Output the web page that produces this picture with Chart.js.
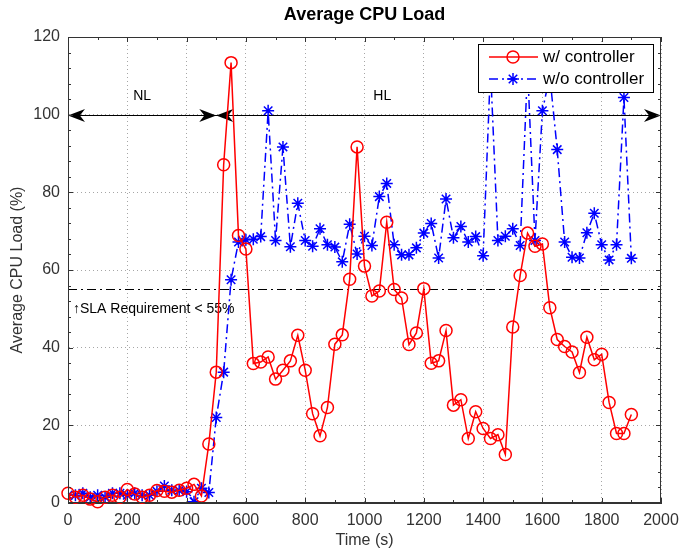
<!DOCTYPE html>
<html>
<head>
<meta charset="utf-8">
<script src="https://cdn.jsdelivr.net/npm/chart.js@4.4.0/dist/chart.umd.min.js"></script>
<style>
  html, body { margin: 0; padding: 0; background: #fff; }
  #wrap { width: 683px; height: 554px; }
</style>
</head>
<body>
<div id="wrap"><canvas id="cpu" width="683" height="554"></canvas></div>
<script>
// sample times (s)
var times = [0, 25, 50, 75, 100, 125, 150, 175, 200, 225, 250, 275, 300, 325, 350, 375, 400, 425, 450, 475,
    500, 525, 550, 575, 600, 625, 650, 675, 700, 725, 750, 775, 800, 825, 850, 875, 900, 925, 950, 975,
    1000, 1025, 1050, 1075, 1100, 1125, 1150, 1175, 1200, 1225, 1250, 1275, 1300, 1325, 1350, 1375, 1400, 1425, 1450, 1475,
    1500, 1525, 1550, 1575, 1600, 1625, 1650, 1675, 1700, 1725, 1750, 1775, 1800, 1825, 1850, 1875, 1900];

// w/ controller (%)
var withCtrl = [2.5, 1.5, 2, 1, 0.3, 1.5, 2, 1.5, 3.5, 2.3, 1.5, 2, 3.2, 3, 2.8, 3.3, 3.8, 4.8, 1.8, 15.2,
    33.7, 87.1, 113.4, 68.9, 65.4, 35.9, 36.3, 37.6, 31.9, 34.2, 36.6, 43.2, 34.2, 23, 17.3, 24.6, 40.9, 43.3, 57.6, 91.7,
    61, 53.3, 54.6, 72.3, 55, 52.8, 40.8, 43.8, 55.2, 36, 36.6, 44.4, 25.2, 26.6, 16.6, 23.5, 19.2, 16.6, 17.6, 12.5,
    45.3, 58.6, 69.5, 66.1, 66.7, 50.3, 42.1, 40.3, 38.9, 33.6, 42.7, 36.9, 38.3, 25.9, 17.9, 17.9, 22.8];

// w/o controller (%)
var withoutCtrl = [2, 2, 2.5, 1.5, 2, 1.5, 2.5, 2.5, 2, 2.5, 2, 2, 3, 4.4, 3.3, 3.2, 2.9, 0.3, 3.8, 2.7,
    22, 33.7, 57.5, 67.2, 67.8, 67.9, 68.6, 101, 67.6, 91.7, 66, 77.2, 67.6, 66.1, 70.6, 66.5, 65.9, 62.1, 71.8, 64.1,
    68.7, 66.3, 78.9, 82.3, 66.5, 63.9, 63.9, 65.7, 69.5, 72, 63.1, 78.3, 68.3, 71.2, 67.2, 68.6, 63.7, 112, 67.6, 68.7,
    70.6, 66.3, 112, 67.6, 101, 110, 91, 67.2, 63.3, 63.1, 69.6, 74.6, 66.5, 62.6, 66.5, 104.4, 63];

var seriesNames = ['w/ controller', 'w/o controller'];
var slaLevel = 55;
var phaseLevel = 100;
var phaseBounds = [0, 500, 2000];
var phaseNames = ['NL', 'HL'];

var axisColor = '#333';
var fontFamily = '"Liberation Sans", Arial, Helvetica, sans-serif';

function toPoints(values) {
    return times.map(function (t, i) { return { x: t, y: values[i] }; });
}

function arrowHead(ctx, x, y, dir) {
    var len = 17, half = 6.5;
    ctx.beginPath();
    ctx.moveTo(x, y);
    ctx.lineTo(x - dir * len, y - half);
    ctx.lineTo(x - dir * len * 0.7, y);
    ctx.lineTo(x - dir * len, y + half);
    ctx.closePath();
    ctx.fill();
}

function drawStar(ctx, x, y, r) {
    var d = r * Math.SQRT1_2;
    ctx.beginPath();
    ctx.moveTo(x - r, y); ctx.lineTo(x + r, y);
    ctx.moveTo(x, y - r); ctx.lineTo(x, y + r);
    ctx.moveTo(x - d, y - d); ctx.lineTo(x + d, y + d);
    ctx.moveTo(x - d, y + d); ctx.lineTo(x + d, y - d);
    ctx.stroke();
}

var annotations = {
    id: 'annotations',
    beforeDatasetsDraw: function (chart) {
        var ctx = chart.ctx, xs = chart.scales.x, ys = chart.scales.y;
        var area = chart.chartArea;
        ctx.save();

        // SLA line
        var sy = Math.round(ys.getPixelForValue(slaLevel)) + 0.5;
        ctx.strokeStyle = '#000';
        ctx.lineWidth = 1;
        ctx.setLineDash([9, 4, 2, 4]);
        ctx.beginPath();
        ctx.moveTo(area.left, sy);
        ctx.lineTo(area.right, sy);
        ctx.stroke();
        ctx.setLineDash([]);

        ctx.fillStyle = '#000';
        ctx.font = '14px ' + fontFamily;
        ctx.textAlign = 'left';
        ctx.textBaseline = 'middle';
        ctx.fillText('\u2191SLA Requirement < 55%', area.left + 5, sy + 20);

        // phase arrows
        var py = Math.round(ys.getPixelForValue(phaseLevel)) + 0.5;
        var p0 = xs.getPixelForValue(phaseBounds[0]);
        var p1 = xs.getPixelForValue(phaseBounds[1]);
        var p2 = xs.getPixelForValue(phaseBounds[2]);
        ctx.beginPath();
        ctx.moveTo(p0, py);
        ctx.lineTo(p2, py);
        ctx.stroke();
        arrowHead(ctx, p0, py, -1);
        arrowHead(ctx, p1, py, 1);
        arrowHead(ctx, p1, py, -1);
        arrowHead(ctx, p2, py, 1);

        ctx.font = '14px ' + fontFamily;
        ctx.textAlign = 'center';
        ctx.fillText(phaseNames[0], xs.getPixelForValue(250), py - 19);
        ctx.fillText(phaseNames[1], xs.getPixelForValue(1060), py - 19);
        ctx.restore();
    },
    afterDraw: function (chart) {
        var ctx = chart.ctx, xs = chart.scales.x, ys = chart.scales.y;
        var a = chart.chartArea;
        ctx.save();

        // box and inner ticks
        ctx.strokeStyle = axisColor;
        ctx.lineWidth = 1;
        ctx.strokeRect(a.left + 0.5, a.top + 0.5, a.right - a.left - 1, a.bottom - a.top - 1);
        ctx.beginPath();
        for (var t = 0; t <= 2000; t += 100) {
            var px = Math.round(xs.getPixelForValue(t)) + 0.5;
            var len = t % 200 === 0 ? 5 : 3;
            ctx.moveTo(px, a.bottom); ctx.lineTo(px, a.bottom - len);
            ctx.moveTo(px, a.top); ctx.lineTo(px, a.top + len);
        }
        for (var v = 0; v <= 120; v += 4) {
            var py = Math.round(ys.getPixelForValue(v)) + 0.5;
            var l2 = v % 20 === 0 ? 5 : 3;
            ctx.moveTo(a.left, py); ctx.lineTo(a.left + l2, py);
            ctx.moveTo(a.right, py); ctx.lineTo(a.right - l2, py);
        }
        ctx.stroke();

        // title
        ctx.fillStyle = '#000';
        ctx.font = 'bold 18px ' + fontFamily;
        ctx.textAlign = 'center';
        ctx.textBaseline = 'middle';
        ctx.fillText('Average CPU Load', (a.left + a.right) / 2, 15);

        // legend
        var lx = 478, ly = 44, lw = 175, lh = 48;
        ctx.fillStyle = '#fff';
        ctx.fillRect(lx, ly, lw, lh);
        ctx.strokeStyle = '#000';
        ctx.strokeRect(lx + 0.5, ly + 0.5, lw, lh);

        var rows = [ly + 13, ly + 35];
        ctx.lineWidth = 1.5;
        ctx.strokeStyle = '#ff0000';
        ctx.beginPath();
        ctx.moveTo(489, rows[0]); ctx.lineTo(538, rows[0]);
        ctx.stroke();
        ctx.beginPath();
        ctx.arc(513, rows[0], 6, 0, Math.PI * 2);
        ctx.stroke();

        ctx.strokeStyle = '#0000ff';
        ctx.setLineDash([9, 4, 2, 4]);
        ctx.beginPath();
        ctx.moveTo(489, rows[1]); ctx.lineTo(538, rows[1]);
        ctx.stroke();
        ctx.setLineDash([]);
        drawStar(ctx, 513, rows[1], 6);

        ctx.fillStyle = '#000';
        ctx.font = '17px ' + fontFamily;
        ctx.textAlign = 'left';
        ctx.fillText(seriesNames[0], 543, rows[0]);
        ctx.fillText(seriesNames[1], 543, rows[1]);
        ctx.restore();
    }
};

window.onload = function () {
    var ctx = document.getElementById('cpu');
    var tickFont = { family: fontFamily, size: 16 };

    new Chart(ctx, {
        type: 'line',
        data: {
            datasets: [{
                label: seriesNames[0],
                data: toPoints(withCtrl),
                borderColor: '#ff0000',
                backgroundColor: 'rgba(0,0,0,0)',
                borderWidth: 1.5,
                pointStyle: 'circle',
                pointRadius: 6,
                pointBorderWidth: 1.5,
                pointBorderColor: '#ff0000',
                pointBackgroundColor: 'rgba(0,0,0,0)',
                tension: 0,
                clip: 8
            }, {
                label: seriesNames[1],
                data: toPoints(withoutCtrl),
                borderColor: '#0000ff',
                backgroundColor: 'rgba(0,0,0,0)',
                borderWidth: 1.5,
                borderDash: [9, 4, 2, 4],
                pointStyle: 'star',
                pointRadius: 6,
                pointBorderWidth: 1.5,
                pointBorderColor: '#0000ff',
                tension: 0,
                clip: 0
            }]
        },
        options: {
            responsive: false,
            animation: false,
            layout: { padding: { top: 37, right: 22, left: 0, bottom: 0 } },
            plugins: {
                legend: { display: false },
                title: { display: false },
                tooltip: { enabled: false }
            },
            scales: {
                x: {
                    type: 'linear',
                    min: 0,
                    max: 2000,
                    ticks: { stepSize: 200, font: tickFont, color: axisColor, padding: 8, maxRotation: 0,
                        callback: function (v) { return String(v); } },
                    grid: { color: 'rgba(0,0,0,0.35)', drawTicks: false },
                    border: { color: axisColor, dash: [1, 3] },
                    title: { display: true, text: 'Time (s)', font: tickFont, color: axisColor, padding: { top: 0, bottom: 4 } },
                    afterFit: function (s) { s.height = 51; s.paddingRight = 0; s.paddingLeft = 0; }
                },
                y: {
                    min: 0,
                    max: 120,
                    ticks: { stepSize: 20, font: tickFont, color: axisColor, padding: 8 },
                    grid: { color: 'rgba(0,0,0,0.35)', drawTicks: false },
                    border: { color: axisColor, dash: [1, 3] },
                    title: { display: true, text: 'Average CPU Load (%)', font: tickFont, color: axisColor, padding: { top: 8, bottom: 0 } },
                    afterFit: function (s) { s.width = 68; s.paddingTop = 0; s.paddingBottom = 0; }
                }
            }
        },
        plugins: [annotations]
    });
};
</script>
</body>
</html>
